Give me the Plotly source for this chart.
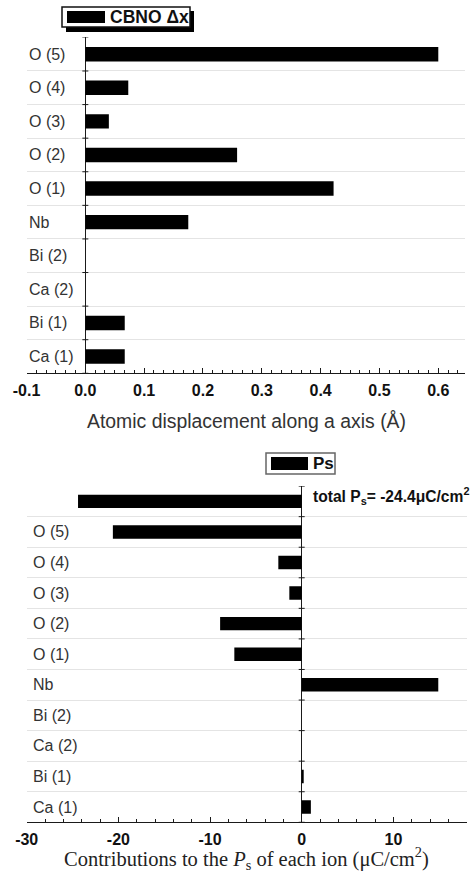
import plotly.graph_objects as go

W, H = 471, 888

# ---------------- data ----------------
top_categories = ["Ca (1)", "Bi (1)", "Ca (2)", "Bi (2)", "Nb",
                  "O (1)", "O (2)", "O (3)", "O (4)", "O (5)"]
top_values = [0.067, 0.067, 0.0, 0.0, 0.175, 0.422, 0.258, 0.040, 0.073, 0.600]
top_tick_values = [-0.1, 0.0, 0.1, 0.2, 0.3, 0.4, 0.5, 0.6]
top_tick_labels = ["-0.1", "0.0", "0.1", "0.2", "0.3", "0.4", "0.5", "0.6"]

bottom_categories = ["Ca (1)", "Bi (1)", "Ca (2)", "Bi (2)", "Nb",
                     "O (1)", "O (2)", "O (3)", "O (4)", "O (5)", "total"]
bottom_category_labels = ["Ca (1)", "Bi (1)", "Ca (2)", "Bi (2)", "Nb",
                          "O (1)", "O (2)", "O (3)", "O (4)", "O (5)", ""]
bottom_values = [1.0, 0.15, 0.0, 0.0, 14.9, -7.35, -8.9, -1.35, -2.55, -20.6, -24.4]
bottom_tick_values = [-30, -20, -10, 0, 10]
bottom_tick_labels = ["-30", "-20", "-10", "0", "10"]

top_legend = "CBNO \u0394x"
bottom_legend = "Ps"
total_note = "total P<sub>s</sub>= -24.4\u03bcC/cm<sup>2</sup>"
top_xtitle = "Atomic displacement along a axis (\u00c5)"
bottom_xtitle = "Contributions to the <i>P</i><sub>s</sub> of each ion (\u03bcC/cm<sup>2</sup>)"


def px(xp):
    return xp / W


def py(yp):
    return 1 - yp / H


AX = "#1a1a1a"
GRID = "#e4e4e4"
LBL = "#333333"
SANS = "Liberation Sans, Arial, sans-serif"
SERIF = "Liberation Serif, Times New Roman, serif"

fig = go.Figure()

fig.add_trace(go.Bar(
    y=top_categories, x=top_values, orientation="h",
    marker=dict(color="black", line=dict(width=0)),
    width=0.43, xaxis="x", yaxis="y", hoverinfo="x+y",
))
fig.add_trace(go.Bar(
    y=bottom_categories, x=bottom_values, orientation="h",
    marker=dict(color="black", line=dict(width=0)),
    width=0.44, xaxis="x2", yaxis="y2", hoverinfo="x+y",
))

top_ydom = [py(373.3), py(37.4)]
bot_ydom = [py(822.3), py(486.1)]
top_xdom = [px(26.5), px(465.0)]
bot_xdom = [px(26.7), px(466.7)]

xcommon = dict(
    showline=True, linecolor=AX, linewidth=1, mirror=False,
    ticks="inside", ticklen=5, tickwidth=1, tickcolor=AX,
    showgrid=False, zeroline=True, zerolinecolor=AX, zerolinewidth=1,
    automargin=False,
    tickfont=dict(family=SANS, size=16, color="#111", weight="bold"),
    tickmode="array",
)


def cat_axis(cats, dom, anchor):
    return dict(
        domain=dom, anchor=anchor, type="category",
        categoryorder="array", categoryarray=cats,
        range=[-0.5, len(cats) - 0.5],
        showline=False, ticks="", tickson="boundaries",
        showticklabels=False,
        showgrid=True, gridcolor=GRID, gridwidth=1, zeroline=False,
        automargin=False,
    )


fig.update_layout(
    template="none",
    width=W, height=H,
    margin=dict(l=0, r=0, t=0, b=0, pad=0),
    paper_bgcolor="white", plot_bgcolor="white",
    showlegend=False,
    xaxis=dict(
        domain=top_xdom, range=[-0.1, 0.6454], anchor="y",
        tickvals=top_tick_values, ticktext=top_tick_labels,
        minor=dict(dtick=0.1 / 6, tick0=0, ticks="inside", ticklen=3, tickcolor=AX),
        ticklabelstandoff=2,
        **xcommon,
    ),
    yaxis=cat_axis(top_categories, top_ydom, "x"),
    xaxis2=dict(
        domain=bot_xdom, range=[-30, 18.0], anchor="y2",
        tickvals=bottom_tick_values, ticktext=bottom_tick_labels,
        minor=dict(dtick=2, tick0=0, ticks="inside", ticklen=3, tickcolor=AX),
        ticklabelstandoff=2,
        **xcommon,
    ),
    yaxis2=cat_axis(bottom_categories, bot_ydom, "x2"),
)

# category labels, left-aligned inside the plot area
for cat in top_categories:
    fig.add_annotation(xref="paper", yref="y", x=px(26.5), y=cat,
                       xanchor="left", yanchor="middle", showarrow=False,
                       text=cat, font=dict(family=SANS, size=16, color=LBL))
for cat, lab in zip(bottom_categories, bottom_category_labels):
    if lab:
        fig.add_annotation(xref="paper", yref="y2", x=px(30.5), y=cat,
                           xanchor="left", yanchor="middle", showarrow=False,
                           text=lab, font=dict(family=SANS, size=16, color=LBL))

# small boundary ticks crossing the vertical zero axis
for xr, yr, cats in (("x", "y", top_categories), ("x2", "y2", bottom_categories)):
    for i in range(len(cats) + 1):
        fig.add_shape(type="line", xref=xr, yref=yr,
                      xsizemode="pixel", xanchor=0, x0=-3, x1=3,
                      y0=i - 0.5, y1=i - 0.5,
                      line=dict(color=AX, width=1), layer="above")


def rect(x0, y0, x1, y1, fill, line_color=None, lw=0):
    fig.add_shape(type="rect", xref="paper", yref="paper",
                  x0=px(x0), x1=px(x1), y0=py(y1), y1=py(y0),
                  fillcolor=fill,
                  line=dict(color=line_color or fill, width=lw), layer="above")


# top legend (box with drop shadow)
rect(66, 11, 194, 32, "black")
rect(62, 7, 190, 27, "white", "#111", 1.5)
rect(67, 11, 105, 23, "black")
fig.add_annotation(xref="paper", yref="paper", x=px(108), y=py(17.5),
                   xanchor="left", yanchor="middle", showarrow=False,
                   text=top_legend,
                   font=dict(family=SANS, size=17.5, color="#111", weight="bold"))

# bottom legend
rect(266, 453, 335, 474, "white", "#666", 1.5)
rect(271, 457, 308, 470, "black")
fig.add_annotation(xref="paper", yref="paper", x=px(311), y=py(463.5),
                   xanchor="left", yanchor="middle", showarrow=False,
                   text=bottom_legend,
                   font=dict(family=SANS, size=17, color="#111", weight="bold"))

# total note
fig.add_annotation(xref="paper", yref="paper", x=px(311), y=py(496),
                   xanchor="left", yanchor="middle", showarrow=False,
                   text=total_note,
                   font=dict(family=SANS, size=15.6, color="#111", weight="bold"))

# axis titles
fig.add_annotation(xref="paper", yref="paper", x=px(246), y=py(421),
                   xanchor="center", yanchor="middle", showarrow=False,
                   text=top_xtitle,
                   font=dict(family=SANS, size=19.4, color="#333"))
fig.add_annotation(xref="paper", yref="paper", x=px(246), y=py(858),
                   xanchor="center", yanchor="middle", showarrow=False,
                   text=bottom_xtitle,
                   font=dict(family=SERIF, size=20.5, color="#222"))

fig.write_html(
    "out.html",
    config={"displayModeBar": False},
    post_script="document.body.style.margin='0px';document.body.style.padding='0px';"
                "document.body.style.overflow='hidden';",
)
